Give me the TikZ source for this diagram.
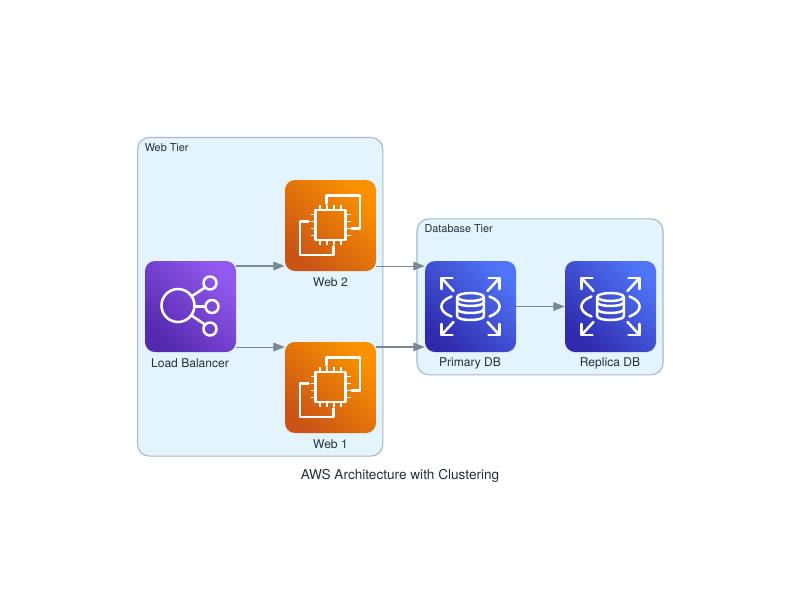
\documentclass[tikz,border=0pt]{standalone}
\usepackage{fontspec}
\setmainfont{TeX Gyre Heros}
\usetikzlibrary{arrows.meta}
\definecolor{txt}{HTML}{232F3E}
\definecolor{edgec}{HTML}{7B8794}
\definecolor{clfill}{HTML}{E3F4FC}
\definecolor{cldraw}{HTML}{A6B9C6}
\definecolor{violettop}{HTML}{9359EE}
\definecolor{violetbot}{HTML}{5429AE}
\definecolor{orangetop}{HTML}{FA9200}
\definecolor{orangebot}{HTML}{CA5416}
\definecolor{bluetop}{HTML}{4F74F6}
\definecolor{bluebot}{HTML}{3029AD}
\tikzset{
  x=0.75pt,y=-0.75pt,
  cluster/.style={draw=cldraw,fill=clfill,line width=0.8pt,rounded corners=9pt,inner sep=0pt},
  clustertitle/.style={text=txt,font=\fontsize{8.15}{10}\selectfont,anchor=west,inner sep=0pt},
  iconbox/.style={minimum width=68.25pt,minimum height=68.25pt,inner sep=0pt,rounded corners=7.5pt,shading=axis,shading angle=-45},
  lbbox/.style={iconbox,top color=violettop,bottom color=violetbot,shading angle=-45},
  ecbox/.style={iconbox,top color=orangetop,bottom color=orangebot,shading angle=-45},
  dbbox/.style={iconbox,top color=bluetop,bottom color=bluebot,shading angle=-45},
  nodelabel/.style={text=txt,font=\fontsize{9.05}{12}\selectfont,inner sep=0pt},
  charttitle/.style={text=txt,font=\fontsize{10.2}{13}\selectfont,inner sep=0pt},
  flow/.style={draw=edgec,line width=0.8pt,-{Triangle[length=8.5pt,width=6.5pt,fill=edgec]}},
  glyph/.style={draw=white,line width=1.9pt,line cap=round,line join=round},
  pinglyph/.style={draw=white,line width=1.4pt,line cap=butt},
}
\newcommand{\lbglyph}[1]{%
\begin{scope}[shift={(#1.center)}]
  \draw[glyph] (-12.5,-1) circle[radius=16.5];
  \draw[glyph] (19.5,-23.5) circle[radius=6.5];
  \draw[glyph] (21.5,0) circle[radius=6.5];
  \draw[glyph] (19.5,22.5) circle[radius=6.5];
  \draw[glyph] (1,-10) -- (14.5,-19);
  \draw[glyph] (4,0) -- (15,0);
  \draw[glyph] (1,9) -- (14.5,18);
\end{scope}}
\newcommand{\ecglyph}[1]{%
\begin{scope}[shift={(#1.center)}]
  \draw[glyph] (-3.8,-22) -- (-3.8,-30) -- (29.5,-30) -- (29.5,3) -- (21,3);
  \draw[glyph] (-22,-3.8) -- (-30.5,-3.8) -- (-30.5,29.5) -- (3,29.5) -- (3,21);
  \draw[glyph] (-15,-15.5) rectangle (15,14.5);
  \foreach \p in {-10.5,-3.5,3.5,10.5}{
    \draw[pinglyph] (\p,-15.5) -- (\p,-20.5);
    \draw[pinglyph] (\p,14.5) -- (\p,19.5);
    \draw[pinglyph] (-15,\p-0.5) -- (-20,\p-0.5);
    \draw[pinglyph] (15,\p-0.5) -- (20,\p-0.5);
  }
\end{scope}}
\newcommand{\dbglyph}[1]{%
\begin{scope}[shift={(#1.center)}]
  \draw[glyph] (0,-9.5) ellipse[x radius=13.3,y radius=4];
  \draw[glyph] (-13.3,-9.5) -- (-13.3,9.5) .. controls (-13.3,14.8) and (13.3,14.8) .. (13.3,9.5) -- (13.3,-9.5);
  \draw[glyph] (-13.3,-4.5) .. controls (-13.3,0.8) and (13.3,0.8) .. (13.3,-4.5);
  \draw[glyph] (-13.3,2.5) .. controls (-13.3,7.8) and (13.3,7.8) .. (13.3,2.5);
  \draw[glyph] (-19,-10) .. controls (-32.5,-5) and (-32.5,5) .. (-19,10);
  \draw[glyph] (19,-10) .. controls (32.5,-5) and (32.5,5) .. (19,10);
  \foreach \sx/\sy in {-1/-1,1/-1,-1/1,1/1}{
    \begin{scope}[xscale=\sx,yscale=\sy]
      \draw[glyph] (18,-28.5) -- (29,-28.5) -- (29,-17.5);
      \draw[glyph] (29,-28.5) -- (17,-15.5);
    \end{scope}
  }
\end{scope}}
\begin{document}
\begin{tikzpicture}
\useasboundingbox[fill=white] (0,0) rectangle (800,615);
% clusters
\node[cluster,minimum width=184pt,minimum height=239pt] (webtier) at (260.2,296.8) {};
\node[cluster,minimum width=184.5pt,minimum height=117pt] (dbtier) at (540,296.8) {};
\node[clustertitle] (webtitle) at (144.5,147.5) {Web Tier};
\node[clustertitle] (dbtitle) at (424.3,229) {Database Tier};
% icons
\node[lbbox] (lb) at (190.5,306.5) {};
\node[ecbox] (web2) at (330.5,225.5) {};
\node[ecbox] (web1) at (330.5,387.5) {};
\node[dbbox] (primary) at (470.5,306.5) {};
\node[dbbox] (replica) at (610.5,306.5) {};
\lbglyph{lb}
\ecglyph{web2}
\ecglyph{web1}
\dbglyph{primary}
\dbglyph{replica}
% labels
\node[nodelabel] (lblabel) at (190,363) {Load Balancer};
\node[nodelabel] (web2label) at (330.5,282) {Web 2};
\node[nodelabel] (web1label) at (330.5,444) {Web 1};
\node[nodelabel] (primarylabel) at (470,363) {Primary DB};
\node[nodelabel] (replicalabel) at (610,363) {Replica DB};
\node[charttitle] (title) at (400,475.5) {AWS Architecture with Clustering};
% connectors
\draw[flow] ([yshift=30.4pt]lb.east) -- ([yshift=30.4pt]lb.east -| web2.west);
\draw[flow] ([yshift=-30.4pt]lb.east) -- ([yshift=-30.4pt]lb.east -| web1.west);
\draw[flow] ([yshift=-30.4pt]web2.east) -- ([yshift=-30.4pt]web2.east -| primary.west);
\draw[flow] ([yshift=30.4pt]web1.east) -- ([yshift=30.4pt]web1.east -| primary.west);
\draw[flow] (primary.east) -- (replica.west);
\end{tikzpicture}
\end{document}
